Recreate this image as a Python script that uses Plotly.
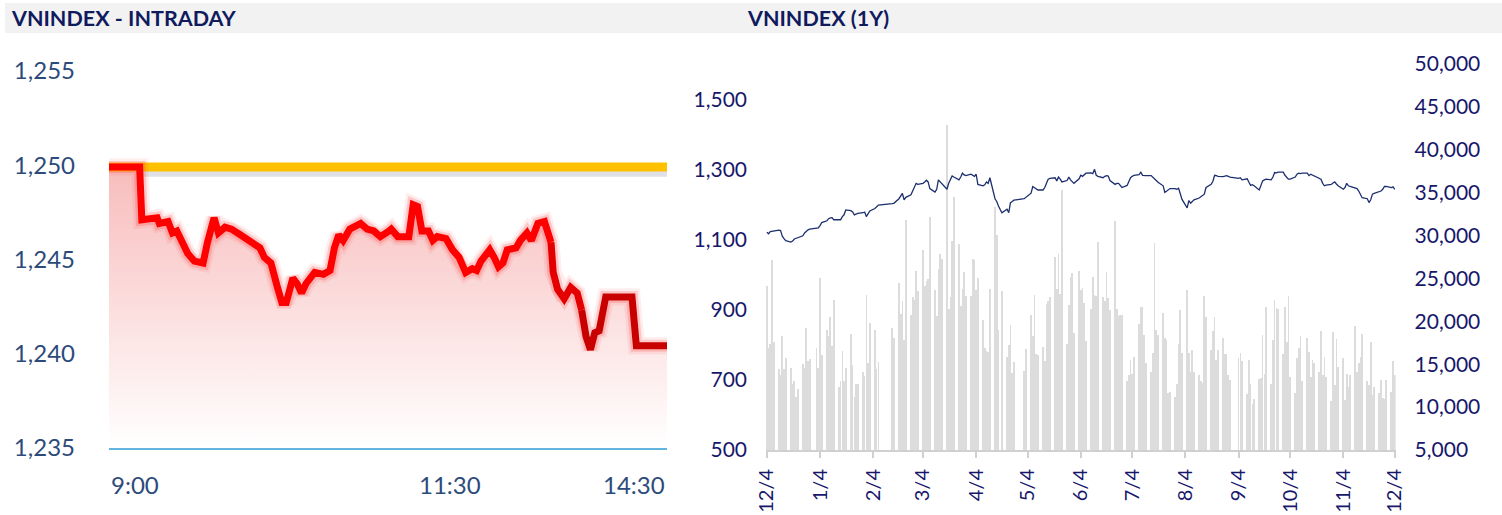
import pandas as pd
import plotly.graph_objects as go

# ---------------- Intraday data (VNINDEX) ----------------
intraday_times = [
    "9:00", "9:14", "9:15", "9:19", "9:22", "9:23", "9:27", "9:29", "9:31", "9:36",
    "9:39", "9:43", "9:44", "9:45", "9:48", "9:50", "9:53", "9:56", "10:00", "10:03",
    "10:06", "10:09", "10:11", "10:14", "10:17", "10:19", "10:21", "10:24", "10:26", "10:28",
    "10:30", "10:34", "10:38", "10:41", "10:43", "10:45", "10:47", "10:50", "10:55", "10:58",
    "11:01", "11:04", "11:08", "11:09", "11:12", "11:17", "11:19", "11:21", "11:23", "11:26",
    "11:28", "11:30", "13:04", "13:07", "13:10", "13:13", "13:16", "13:18", "13:20", "13:23",
    "13:24", "13:26", "13:28", "13:30", "13:32", "13:36", "13:38", "13:41", "13:43", "13:46",
    "13:49", "13:52", "13:53", "13:55", "13:58", "14:01", "14:04", "14:06", "14:08", "14:10",
    "14:12", "14:14", "14:17", "14:29", "14:31", "14:45",
]
intraday_values = [
    1249.9, 1249.9, 1247.1, 1247.2, 1247.2, 1246.9, 1247.0, 1246.4, 1246.5, 1245.3,
    1244.9, 1244.8, 1245.6, 1245.9, 1247.2, 1246.4, 1246.7, 1246.6, 1246.3, 1246.1,
    1245.9, 1245.6, 1245.1, 1244.8, 1243.5, 1242.7, 1242.7, 1244.0, 1243.7, 1243.2,
    1243.7, 1244.3, 1244.2, 1244.4, 1245.6, 1246.3, 1246.0, 1246.6, 1246.9, 1246.6,
    1246.5, 1246.2, 1246.5, 1246.6, 1246.2, 1246.2, 1247.9, 1247.8, 1246.5, 1246.5,
    1246.0, 1246.2, 1246.1, 1245.5, 1245.1, 1244.3, 1244.5, 1244.4, 1244.9, 1245.3,
    1245.5, 1245.1, 1244.6, 1244.8, 1245.5, 1245.6, 1246.0, 1246.4, 1246.0, 1246.9,
    1247.0, 1245.9, 1244.3, 1243.4, 1242.9, 1243.5, 1243.2, 1242.3, 1240.9, 1240.2,
    1241.1, 1241.2, 1243.0, 1243.0, 1240.4, 1240.4,
]
reference_value = 1249.9
intraday_ticks = [1235, 1240, 1245, 1250, 1255]
intraday_tick_labels = ["9:00", "11:30", "14:30"]
session_open, session_close = "9:00", "14:45"
color_break_times = ["13:52", "14:06"]

# ---------------- 1Y data (VNINDEX) ----------------
start_date, end_date = "2023-12-04", "2024-12-04"
holidays = ["2024-01-01", "2024-02-08", "2024-02-09", "2024-02-12", "2024-02-13",
            "2024-02-14", "2024-04-18", "2024-04-29", "2024-04-30", "2024-05-01",
            "2024-09-02", "2024-09-03"]

index_close = [
    1122, 1118, 1124, 1125, 1126, 1128, 1127, 1111, 1104, 1098,
    1094, 1097, 1103, 1105, 1107, 1112, 1120, 1125, 1129, 1131,
    1133, 1135, 1141, 1150,
    1155, 1161, 1163, 1164, 1158, 1157, 1158, 1167, 1172, 1186,
    1184, 1180, 1172, 1174, 1176, 1178, 1180, 1167, 1175, 1183,
    1190, 1196, 1200,
    1204, 1205,
    1218, 1225, 1233, 1215, 1222, 1229, 1240, 1256, 1262, 1259,
    1262, 1266, 1271, 1266, 1247, 1237, 1245, 1272, 1266, 1263,
    1245, 1262, 1275, 1283, 1280, 1272, 1280, 1291, 1286, 1284,
    1288, 1286, 1282, 1288, 1259, 1255, 1258, 1266, 1262, 1278,
    1218, 1210, 1197, 1178,
    1188, 1178, 1207, 1210, 1214,
    1218, 1222,
    1234, 1253, 1250, 1245, 1243, 1243, 1250, 1262, 1274, 1276,
    1278, 1269, 1280, 1274, 1266, 1270, 1280, 1272, 1266, 1262,
    1275, 1285, 1282, 1288, 1291, 1292, 1290, 1302, 1285, 1282,
    1278, 1282, 1284, 1283, 1270, 1259, 1262, 1262, 1256, 1250,
    1256, 1270, 1278, 1282, 1285, 1287, 1294, 1285, 1284, 1284,
    1284, 1280, 1274, 1270, 1265, 1255, 1236, 1240, 1245, 1247,
    1247, 1245, 1248, 1231, 1216,
    1192, 1213, 1205, 1210, 1215, 1220, 1223, 1226, 1231, 1250,
    1259, 1268, 1285, 1284, 1282, 1281, 1283, 1284, 1282, 1280,
    1276, 1278, 1272,
    1275, 1265, 1256, 1258, 1255, 1243, 1255, 1269, 1272, 1274,
    1272, 1280, 1293, 1292, 1294, 1294, 1285, 1278, 1274, 1274,
    1280, 1288, 1291, 1290, 1291, 1291, 1284, 1288, 1286, 1284,
    1278, 1274, 1262, 1255, 1257, 1259, 1263, 1266, 1260, 1255,
    1245, 1250, 1262, 1255, 1253, 1250, 1247, 1240, 1228, 1221,
    1218, 1207, 1215, 1231, 1233, 1237, 1240, 1245, 1253, 1253,
    1250, 1252, 1245,
]
trading_value = [
    24100, 16900, 17400, 27200, 17600, 14500, 13800, 18300, 14500, 15700,
    14600, 12700, 13100, 11200, 12100, 15000, 14600, 19200, 15400, 15600,
    16900, 14600, 25100, 16100,
    19000, 18300, 20500, 17100, 22500, 12400, 13000, 16600, 13100, 14600,
    18500, 14900, 11200, 12700, 12700, 14100, 13600, 23100, 15100, 19800,
    19000, 14400, 15300,
    19200, 18000,
    24500, 20900, 22400, 17800, 31800, 20700, 22800, 22500, 25900, 23500,
    28300, 24100, 24700, 24900, 32200, 23600, 20600, 26100, 27800, 27300,
    42900, 21400, 22800, 29400, 34500, 29000, 21800, 23800, 25700, 23000,
    23000, 27300, 27200, 23600, 25000, 20200, 16900, 16600, 16400, 23800,
    33300, 30100, 19000, 23500,
    15800, 17200, 19600, 14000, 15300,
    14200, 16800,
    20700, 18300, 23100, 16200, 16100, 17000, 15400, 22000, 22400, 22800,
    27500, 23800, 27900, 23200, 35300, 17400, 21900, 25200, 25600, 18600,
    25900, 23600, 23900, 22100, 17700, 21400, 25200, 23100, 22900, 29200,
    22800, 22400, 25800, 22700, 21300, 31700, 21400, 20600, 20700, 20700,
    13000, 13800, 15500, 13900, 15900, 19700, 21700, 21700, 18400, 15200,
    14100, 16300, 29100, 19000, 18400, 21000, 18000, 17800, 11600, 11800,
    11200, 12700, 17400, 21300, 16300,
    23600, 16300, 14100, 16700, 14100, 13800, 13000, 12800, 22900, 20500,
    16700, 18900, 20500, 15500, 16700, 18100, 16200, 16200, 13800, 13200,
    15700, 16300, 15400,
    11500, 15500, 12700, 10400, 11000, 13300, 13400, 18400, 13900, 21700,
    12700, 17800, 22500, 21600, 21400, 16200, 21700, 17600, 23000, 13500,
    11600, 15700, 16900, 18300, 13100, 18100, 16400, 13500, 15500, 15200,
    14100, 18900, 13700, 15800, 13500, 10700, 18800, 12600, 17900, 14700,
    15700, 10800, 13900, 12400, 13700, 19400, 14100, 15200, 15900, 18500,
    13100, 12600, 17600, 11400, 12400, 11700, 13200, 11100, 10900, 13200,
    11800, 15400, 13800,
]
month_ticks = ["2023-12-04", "2024-01-04", "2024-02-04", "2024-03-04", "2024-04-04",
               "2024-05-04", "2024-06-04", "2024-07-04", "2024-08-04", "2024-09-04",
               "2024-10-04", "2024-11-04", "2024-12-04"]
month_tick_labels = ["12/4", "1/4", "2/4", "3/4", "4/4", "5/4", "6/4", "7/4", "8/4",
                     "9/4", "10/4", "11/4", "12/4"]
price_ticks = [500, 700, 900, 1100, 1300, 1500]
value_ticks = [5000, 10000, 15000, 20000, 25000, 30000, 35000, 40000, 45000, 50000]
titles = ["VNINDEX - INTRADAY", "VNINDEX (1Y)"]


def session_minute(t):
    h, m = map(int, t.split(":"))
    mins = h * 60 + m - 9 * 60
    if mins > 150:  # lunch break 11:30 - 13:00 removed
        mins -= 90
    return mins


# ---------------- figure geometry (pixels) ----------------
W, H = 1502, 515
FONT = "Lato"
def px_x(p): return p / W
def px_y(p): return (H - p) / H

fig = go.Figure()

xs = [session_minute(t) for t in intraday_times]
ys = intraday_values
x_open, x_close = session_minute(session_open), session_minute(session_close)

# reference line shadow
fig.add_trace(go.Scatter(x=[x_open, x_close], y=[reference_value - 0.2] * 2, mode="lines",
                         line=dict(color="rgba(110,120,140,0.22)", width=12),
                         hoverinfo="skip", xaxis="x", yaxis="y"))

# gradient fill under the intraday line
fig.add_trace(go.Scatter(x=xs, y=[intraday_ticks[0]] * len(xs), mode="lines",
                         line=dict(width=0), hoverinfo="skip", xaxis="x", yaxis="y"))
fig.add_trace(go.Scatter(x=xs, y=ys, mode="lines", line=dict(width=0), fill="tonexty",
                         fillgradient=dict(type="vertical",
                                           colorscale=[[0, "#ffffff"], [1, "#f8bcbc"]],
                                           start=intraday_ticks[0], stop=reference_value),
                         hoverinfo="skip", xaxis="x", yaxis="y"))

# reference line
fig.add_trace(go.Scatter(x=[x_open, x_close], y=[reference_value] * 2, mode="lines",
                         line=dict(color="#ffc000", width=9),
                         hoverinfo="skip", xaxis="x", yaxis="y"))

# glow of the intraday line
for w, c in [(17, "rgba(255,70,70,0.10)"), (12, "rgba(255,40,40,0.18)")]:
    fig.add_trace(go.Scatter(x=xs, y=ys, mode="lines", line=dict(color=c, width=w),
                             hoverinfo="skip", xaxis="x", yaxis="y"))

# intraday line in colour segments
b1 = intraday_times.index(color_break_times[0])
b2 = intraday_times.index(color_break_times[1])
segments = [(0, b1 + 1, "#ff0000"), (b1, b2 + 1, "#e40000"), (b2, len(xs), "#c80000")]
for a, b, c in segments:
    fig.add_trace(go.Scatter(x=xs[a:b], y=ys[a:b], mode="lines",
                             line=dict(color=c, width=7),
                             xaxis="x", yaxis="y"))

# ---------------- 1Y panel ----------------
days = pd.bdate_range(start_date, end_date)
days = days[~days.isin(pd.to_datetime(holidays))]
assert len(days) == len(index_close) == len(trading_value), (len(days), len(index_close), len(trading_value))

fig.add_trace(go.Bar(x=days, y=trading_value, marker=dict(color="#dcdcdc", line=dict(width=0)),
                     width=0.4 * 86400000, xaxis="x2", yaxis="y2"))
fig.add_trace(go.Scatter(x=days, y=index_close, mode="lines",
                         line=dict(color="#1c2f6e", width=1.3), xaxis="x2", yaxis="y3"))

left_col = "#2c4b7b"
right_col = "#17176b"

fig.update_layout(
    width=W, height=H, margin=dict(l=0, r=0, t=0, b=0, pad=0), autosize=False,
    paper_bgcolor="white", plot_bgcolor="white", showlegend=False,
    font=dict(family=FONT),
    bargap=0,
    xaxis=dict(domain=[px_x(109), px_x(667)], range=[x_open, x_close], anchor="y",
               automargin=False,
               showticklabels=False, showgrid=False, zeroline=False,
               showline=True, linecolor="#62b4e0", linewidth=2, ticks=""),
    yaxis=dict(domain=[px_y(447.5), px_y(71)], range=[intraday_ticks[0], intraday_ticks[-1]],
               anchor="x", automargin=False,
               tickvals=intraday_ticks, tickformat=",", showgrid=False,
               zeroline=False, showline=False, ticks="", ticklabelstandoff=33,
               tickfont=dict(family=FONT, size=24, color=left_col)),
    xaxis2=dict(domain=[px_x(766), px_x(1395.6)], type="date", anchor="y2",
                automargin=False,
                range=["2023-12-03 12:00", "2024-12-04 12:00"],
                tickvals=month_ticks, ticktext=month_tick_labels, tickangle=-90,
                tickfont=dict(family=FONT, size=20, color=right_col),
                ticks="outside", ticklen=6, tickcolor="#d0d0d0", tickwidth=1.5,
                ticklabelstandoff=3,
                showline=True, linecolor="#d0d0d0", linewidth=2, showgrid=False,
                zeroline=False),
    yaxis2=dict(domain=[px_y(450), px_y(64)], range=[5000, 50000], anchor="x2",
                automargin=False,
                side="right", tickvals=value_ticks, tickformat=",", showgrid=False,
                zeroline=False, showline=False, ticks="", ticklabelstandoff=18,
                tickfont=dict(family=FONT, size=21, color=right_col)),
    yaxis3=dict(overlaying="y2", anchor="x2", side="left", range=[500, 1603],
                automargin=False,
                tickvals=price_ticks, tickformat=",", showgrid=False, zeroline=False,
                showline=False, ticks="", ticklabelstandoff=18,
                tickfont=dict(family=FONT, size=21, color=right_col)),
    shapes=[dict(type="rect", xref="paper", yref="paper", x0=px_x(5), x1=1,
                 y0=px_y(33), y1=px_y(3), fillcolor="#f2f2f2", line=dict(width=0),
                 layer="below")],
)

annotations = [
    dict(text="<b>%s</b>" % titles[0], xref="paper", yref="paper", x=px_x(9), y=px_y(18),
         xanchor="left", yanchor="middle", showarrow=False,
         font=dict(family=FONT, size=21.5, color="#101b5e")),
    dict(text="<b>%s</b>" % titles[1], xref="paper", yref="paper", x=px_x(745), y=px_y(18),
         xanchor="left", yanchor="middle", showarrow=False,
         font=dict(family=FONT, size=21.5, color="#101b5e")),
]
anchors = ["left", "center", "center"]
shifts = [0, 13, 0]
for lab, anc, sh in zip(intraday_tick_labels, anchors, shifts):
    annotations.append(dict(text=lab, xref="x", yref="paper", x=session_minute(lab),
                            y=px_y(484), xanchor=anc, yanchor="middle", xshift=sh,
                            showarrow=False,
                            font=dict(family=FONT, size=24, color=left_col)))
fig.update_layout(annotations=annotations)

fig.write_html("out.html", config={"displayModeBar": False},
               post_script="document.body.style.margin='0';document.body.style.overflow='hidden';")
